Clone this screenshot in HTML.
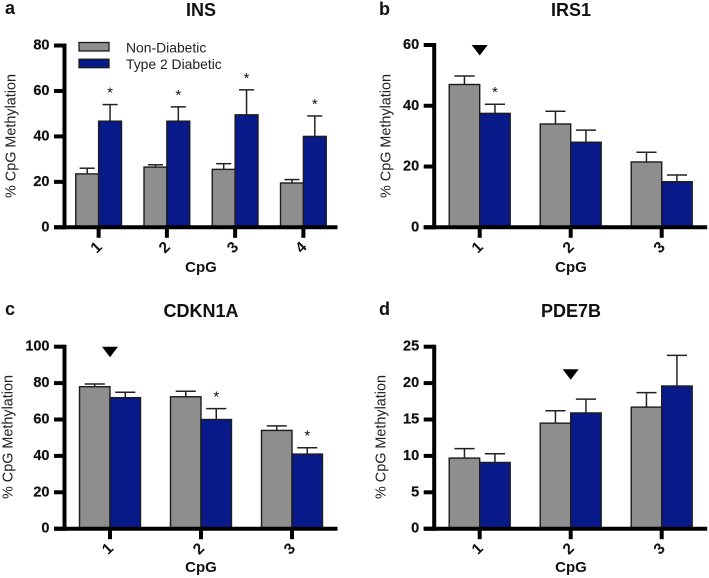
<!DOCTYPE html>
<html lang="en">
<head>
<meta charset="utf-8">
<title>CpG Methylation Charts</title>
<style>
html,body{margin:0;padding:0;background:#fff;width:709px;height:578px;overflow:hidden}
svg{display:block;font-family:"Liberation Sans",Arial,sans-serif}
</style>
</head>
<body>
<svg id="figure" width="709" height="578" viewBox="0 0 709 578" xmlns="http://www.w3.org/2000/svg">
<rect width="709" height="578" fill="#fff"/>
</svg>
<script>
// Panel a: INS
const insCategories = ["1", "2", "3", "4"];
const insYTicks = [0, 20, 40, 60, 80];
const insNonDiabetic = [23.5, 26.5, 25.5, 19.5];
const insNonDiabeticUpper = [26, 27.5, 28, 21];
const insDiabetic = [46.7, 46.7, 49.5, 40];
const insDiabeticUpper = [54, 53, 60.5, 49];
const insStars = ["1", "2", "3", "4"];
const insArrows = [];

// Panel b: IRS1
const irs1Categories = ["1", "2", "3"];
const irs1YTicks = [0, 20, 40, 60];
const irs1NonDiabetic = [47, 34, 21.5];
const irs1NonDiabeticUpper = [49.8, 38.2, 24.7];
const irs1Diabetic = [37.5, 28, 15];
const irs1DiabeticUpper = [40.5, 32, 17.2];
const irs1Stars = ["1"];
const irs1Arrows = [{ category: "1", value: 60 }];

// Panel c: CDKN1A
const cdknCategories = ["1", "2", "3"];
const cdknYTicks = [0, 20, 40, 60, 80, 100];
const cdknNonDiabetic = [78, 72.5, 54];
const cdknNonDiabeticUpper = [79.5, 75.5, 56.5];
const cdknDiabetic = [72, 60, 41];
const cdknDiabeticUpper = [75, 66, 44.5];
const cdknStars = ["2", "3"];
const cdknArrows = [{ category: "1", value: 100 }];

// Panel d: PDE7B
const pdeCategories = ["1", "2", "3"];
const pdeYTicks = [0, 5, 10, 15, 20, 25];
const pdeNonDiabetic = [9.7, 14.5, 16.7];
const pdeNonDiabeticUpper = [11, 16.2, 18.7];
const pdeDiabetic = [9.1, 15.9, 19.6];
const pdeDiabeticUpper = [10.3, 17.8, 23.8];
const pdeStars = [];
const pdeArrows = [{ category: "2", value: 21.9 }];

const legendLabels = ["Non-Diabetic", "Type 2 Diabetic"];

const GRAY = "#8e8e8e";
const BLUE = "#08198a";
const INK = "#111";
const NS = "http://www.w3.org/2000/svg";
const figure = document.getElementById("figure");

function make(tag, attrs, text, parent) {
  const el = document.createElementNS(NS, tag);
  for (const k in attrs) el.setAttribute(k, attrs[k]);
  if (text !== undefined) el.textContent = text;
  (parent || figure).appendChild(el);
  return el;
}

function drawPanel(cfg) {
  const group = make("g", {});
  
  

  const maxTick = Math.max.apply(null, cfg.yTicks);
  const yScale = v => cfg.y0 - (v / maxTick) * (cfg.y0 - cfg.yTop);
  const step = 273 / cfg.categories.length;
  const xCenter = i => cfg.xAxis + (i + 0.5) * step;
  const barW = step * 0.335;

  const letter = make("text", { x: cfg.letterX, y: cfg.letterY, "font-size": 18, "font-weight": "bold", fill: INK }, cfg.letter, group);
  
  

  const title = make("text", { x: cfg.titleX, y: cfg.titleY, "font-size": 18, "font-weight": "bold", fill: INK, "text-anchor": "middle" }, cfg.title, group);
  
  

  cfg.categories.forEach((c, i) => {
    const cx = xCenter(i);
    const pairs = [
      { v: cfg.non[i], up: cfg.nonUp[i], x: cx - barW, fill: GRAY, name: "non-diabetic" },
      { v: cfg.dia[i], up: cfg.diaUp[i], x: cx, fill: BLUE, name: "type-2-diabetic" }
    ];
    pairs.forEach(p => {
      const mid = p.x + barW / 2;
      const stem = make("line", { x1: mid, x2: mid, y1: yScale(p.v), y2: yScale(p.up), stroke: "#222", "stroke-width": 1.5 }, undefined, group);
      
      
      const cap = make("line", { x1: mid - barW * 0.33, x2: mid + barW * 0.33, y1: yScale(p.up), y2: yScale(p.up), stroke: "#222", "stroke-width": 1.5 }, undefined, group);
      
      
      const bar = make("rect", { x: p.x, y: yScale(p.v), width: barW, height: cfg.y0 - yScale(p.v), fill: p.fill, stroke: "#1c1c1c", "stroke-width": 1.4 }, undefined, group);
      
      
    });

    const tick = make("line", { x1: cx, x2: cx, y1: cfg.y0, y2: cfg.y0 + 10.5, stroke: "#000", "stroke-width": 4 }, undefined, group);
    
    

    const lx = cx - 2;
    const ly = cfg.y0 + 20.5;
    const lab = make("text", { x: lx, y: ly, "font-size": 15.5, "font-weight": "bold", fill: INK, "text-anchor": "middle", "dominant-baseline": "central", transform: "rotate(-45 " + lx + " " + ly + ")" }, c, group);
    
    

    if (cfg.stars.indexOf(c) >= 0) {
      const star = make("text", { x: cx + barW / 2, y: yScale(cfg.diaUp[i]) - 7, "font-size": 15, fill: INK, "text-anchor": "middle" }, "*", group);
      
      
    }
  });

  cfg.arrows.forEach(a => {
    const cx = xCenter(cfg.categories.indexOf(a.category));
    const top = yScale(a.value);
    const tri = make("polygon", { points: (cx - 8) + "," + top + " " + (cx + 8) + "," + top + " " + cx + "," + (top + 10.5), fill: "#000" }, undefined, group);
    
    
  });

  const yAxis = make("line", { x1: cfg.xAxis, x2: cfg.xAxis, y1: cfg.yTop - 2, y2: cfg.y0 + 2, stroke: "#000", "stroke-width": 4 }, undefined, group);
  
  

  const xAxis = make("line", { x1: cfg.xAxis - 10.5, x2: cfg.xAxis + 273, y1: cfg.y0, y2: cfg.y0, stroke: "#000", "stroke-width": 4 }, undefined, group);
  
  

  cfg.yTicks.forEach(t => {
    const y = yScale(t);
    const tick = make("line", { x1: cfg.xAxis - 10.5, x2: cfg.xAxis, y1: y, y2: y, stroke: "#000", "stroke-width": 4 }, undefined, group);
    
    
    const lab = make("text", { x: cfg.xAxis - 15, y: y, "font-size": 14.5, "font-weight": "bold", fill: INK, "text-anchor": "end", "dominant-baseline": "central", stroke: INK, "stroke-width": 0.2 }, String(t), group);
    
    
  });

  const yt = make("text", { x: 0, y: 0, "font-size": 14.4, fill: "#222", "text-anchor": "middle", "dominant-baseline": "central", transform: "translate(" + cfg.yTitleX + " " + cfg.yTitleY + ") rotate(-90)" }, "% CpG Methylation", group);
  
  

  const xt = make("text", { x: cfg.titleX, y: cfg.xTitleY, "font-size": 15, "font-weight": "bold", fill: INK, "text-anchor": "middle" }, "CpG", group);
  
  
}

drawPanel({ key: "ins", letter: "a", title: "INS", letterX: 5, letterY: 14, titleX: 201, titleY: 16, xAxis: 64.5, y0: 227.3, yTop: 45.5, yTitleX: 11.5, yTitleY: 136, xTitleY: 272, categories: insCategories, yTicks: insYTicks, non: insNonDiabetic, nonUp: insNonDiabeticUpper, dia: insDiabetic, diaUp: insDiabeticUpper, stars: insStars, arrows: insArrows });
drawPanel({ key: "irs1", letter: "b", title: "IRS1", letterX: 379, letterY: 15, titleX: 571, titleY: 16, xAxis: 434.2, y0: 227.3, yTop: 45, yTitleX: 386.5, yTitleY: 136, xTitleY: 272, categories: irs1Categories, yTicks: irs1YTicks, non: irs1NonDiabetic, nonUp: irs1NonDiabeticUpper, dia: irs1Diabetic, diaUp: irs1DiabeticUpper, stars: irs1Stars, arrows: irs1Arrows });
drawPanel({ key: "cdkn1a", letter: "c", title: "CDKN1A", letterX: 5, letterY: 315, titleX: 201, titleY: 317, xAxis: 64.5, y0: 528.7, yTop: 346.7, yTitleX: 8.5, yTitleY: 437, xTitleY: 572, categories: cdknCategories, yTicks: cdknYTicks, non: cdknNonDiabetic, nonUp: cdknNonDiabeticUpper, dia: cdknDiabetic, diaUp: cdknDiabeticUpper, stars: cdknStars, arrows: cdknArrows });
drawPanel({ key: "pde7b", letter: "d", title: "PDE7B", letterX: 379, letterY: 315, titleX: 571, titleY: 317, xAxis: 434.2, y0: 528.7, yTop: 346.7, yTitleX: 381.5, yTitleY: 437, xTitleY: 572, categories: pdeCategories, yTicks: pdeYTicks, non: pdeNonDiabetic, nonUp: pdeNonDiabeticUpper, dia: pdeDiabetic, diaUp: pdeDiabeticUpper, stars: pdeStars, arrows: pdeArrows });

const legend = make("g", {});


legendLabels.forEach((label, i) => {
  const top = 42.5 + i * 16.7;
  const sw = make("rect", { x: 79, y: top, width: 30, height: 8.5, fill: i === 0 ? GRAY : BLUE, stroke: "#1c1c1c", "stroke-width": 1.3 }, undefined, legend);
  
  
  const tx = make("text", { x: 126, y: top + 9.8, "font-size": 13.9, fill: "#222" }, label, legend);
  
  
});
</script>
</body>
</html>
